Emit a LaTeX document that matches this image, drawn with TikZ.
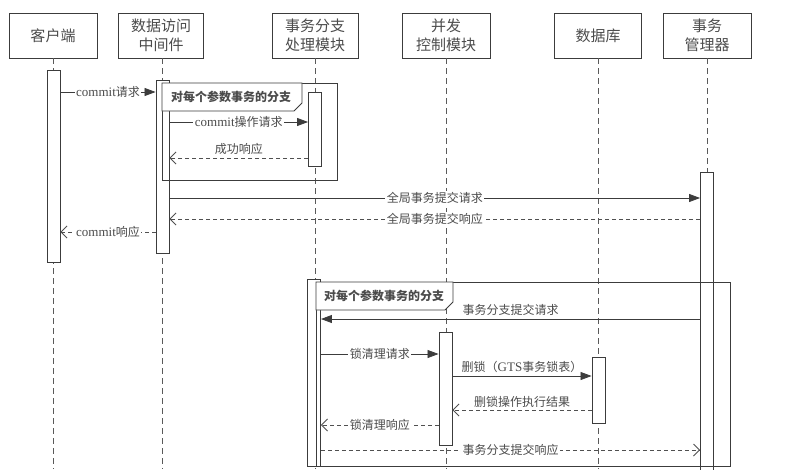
\documentclass[tikz,border=0pt]{standalone}
\usepackage{fontspec}
\setmainfont{Liberation Serif}
\newfontfamily\cjk{Noto Sans CJK SC}
\usetikzlibrary{arrows.meta}
\definecolor{ln}{RGB}{60,60,60}
\definecolor{tx}{RGB}{75,75,75}
\newcommand{\lat}[1]{{\rmfamily\fontsize{13}{14}\selectfont #1}}
\begin{document}
\begin{tikzpicture}[x=1pt,y=-1pt,
  head/.style={draw=ln, line width=0.9pt, minimum width=88pt, minimum height=45pt, inner sep=0pt, align=center, text=tx, font=\cjk\fontsize{15}{19}\selectfont},
  life/.style={draw=ln!85, line width=0.9pt, dash pattern=on 6pt off 4pt},
  bar/.style={draw=ln, line width=0.9pt, fill=white, minimum width=13pt, inner sep=0pt, anchor=north},
  frm/.style={draw=ln, line width=0.9pt},
  lbl/.style={font=\cjk\fontsize{12}{14}\selectfont, text=tx, inner sep=1pt},
  inl/.style={lbl, fill=white, inner xsep=1.5pt},
  sync/.style={draw=ln, line width=0.8pt, -{Triangle[length=11pt,width=8pt]}},
  rep/.style={draw=ln!90, line width=0.8pt, dash pattern=on 4pt off 3pt, -{Straight Barb[length=6pt,width=12pt]}},
]
\useasboundingbox (0,0) rectangle (808,469);
% headers
\node[head] (h1) at (53,35.5) {客户端};
\node[head, minimum width=85pt] (h2) at (161,35.5) {数据访问\\中间件};
\node[head, minimum width=86pt] (h3) at (315,35.5) {事务分支\\处理模块};
\node[head] (h4) at (446,35.5) {并发\\控制模块};
\node[head, minimum width=87pt] (h5) at (598,35.5) {数据库};
\node[head] (h6) at (707,35.5) {事务\\管理器};
% lifelines
\draw[life] (h1.south) -- ++(0,411);
\draw[life] (h2.south) ++(1,0) -- ++(0,411);
\draw[life] (h3.south) -- ++(0,411);
\draw[life] (h4.south) -- ++(0,411);
\draw[life] (h5.south) -- ++(0,411);
\draw[life] (h6.south) -- ++(0,411);
% activation bars
\node[bar, minimum height=192pt] (b1) at (53.5,70) {};
\node[bar, minimum height=173pt] (b2) at (162.5,80) {};
\node[bar, minimum height=74pt] (b3) at (315,92) {};
\node[bar, minimum height=187pt] (b3b) at (314,279) {};
\node[bar, minimum height=300pt] (b6) at (707,172) {};
\node[bar, minimum height=113pt] (b4) at (445.5,332) {};
\node[bar, minimum height=66pt] (b5) at (598.5,357) {};
% fragment 1
\draw[frm] (162,83) rectangle (337,180);
\draw[frm, fill=white] (162,83) -- (302,83) -- (302,103) -- (294,111) -- (162,111) -- cycle;
\node[lbl, font=\cjk\bfseries\fontsize{12}{14}\selectfont] (f1) at (231,97) {对每个参数事务的分支};
% fragment 2
\draw[frm] (316,282) rectangle (730,466);
\draw[frm, fill=white] (316,282) -- (453,282) -- (453,302) -- (445,310) -- (316,310) -- cycle;
\node[lbl, font=\cjk\bfseries\fontsize{12}{14}\selectfont] (f2) at (384,296) {对每个参数事务的分支};
% message levels
\coordinate (m1) at (0,92);
\coordinate (m2) at (0,122);
\coordinate (m3) at (0,158);
\coordinate (m4) at (0,198);
\coordinate (m5) at (0,219);
\coordinate (m6) at (0,232);
\coordinate (m7) at (0,319);
\coordinate (m8) at (0,354);
\coordinate (m9) at (0,376);
\coordinate (m10) at (0,410);
\coordinate (m11) at (0,425);
\coordinate (m12) at (0,450);
% messages
\draw[sync] (b1.east |- m1) -- node[inl] (t1) {\lat{commit}请求} (b2.west |- m1);
\draw[sync] (b2.east |- m2) -- node[inl] (t2) {\lat{commit}操作请求} (b3.west |- m2);
\draw[rep] (b3.west |- m3) -- node[lbl, above=2pt] (t3) {成功响应} (b2.east |- m3);
\draw[sync] (b2.east |- m4) -- node[inl] (t4) {全局事务提交请求} (b6.west |- m4);
\draw[rep] (b6.west |- m5) -- node[inl] (t5) {全局事务提交响应} (b2.east |- m5);
\draw[rep] (b2.west |- m6) -- node[inl] (t6) {\lat{commit}响应} (b1.east |- m6);
\draw[sync] (b6.west |- m7) -- node[lbl, above=2pt] (t7) {事务分支提交请求} (b3b.east |- m7);
\draw[sync] (b3b.east |- m8) -- node[inl] (t8) {锁清理请求} (b4.west |- m8);
\draw[sync] (b4.east |- m9) -- node[lbl, above=2pt] (t9) {删锁（\lat{GTS}事务锁表）} (b5.west |- m9);
\draw[rep] (b5.west |- m10) -- node[lbl, above=1pt] (t10) {删锁操作执行结果} (b4.east |- m10);
\draw[rep] (b4.west |- m11) -- node[inl] (t11) {锁清理响应} (b3b.east |- m11);
\draw[rep] (b3b.east |- m12) -- node[inl] (t12) {事务分支提交响应} (b6.west |- m12);
\end{tikzpicture}
\end{document}
